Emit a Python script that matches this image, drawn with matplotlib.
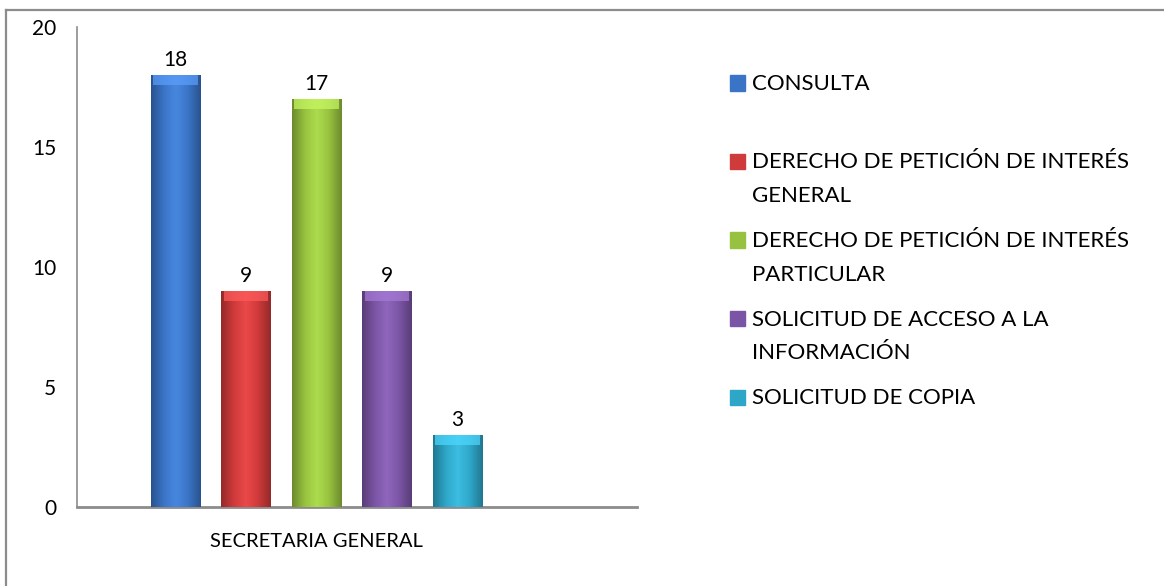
import numpy as np
import matplotlib.pyplot as plt
from matplotlib.colors import LinearSegmentedColormap, to_rgb

plt.rcParams['font.family'] = ['Lato', 'DejaVu Sans']

# Datos
categoria = 'SECRETARIA GENERAL'
tipos = ['CONSULTA',
         'DERECHO DE PETICIÓN DE INTERÉS\nGENERAL',
         'DERECHO DE PETICIÓN DE INTERÉS\nPARTICULAR',
         'SOLICITUD DE ACCESO A LA\nINFORMACIÓN',
         'SOLICITUD DE COPIA']
valores = [18, 9, 17, 9, 3]
colores = ['#3A74C6', '#CF3A3A', '#97C23F', '#7B55A5', '#2EA6C8']
yticks = [0, 5, 10, 15, 20]


def degradado(color):
    c = np.array(to_rgb(color))
    oscuro = c * 0.72
    claro = np.minimum(c * 1.08 + 0.04, 1)
    return LinearSegmentedColormap.from_list('g', [oscuro, c, claro, c, oscuro])


fig = plt.figure(figsize=(11.64, 5.86), dpi=100)
ax = fig.add_axes([77 / 1164, 1 - 507 / 586, (637 - 77) / 1164, (507 - 27) / 586])

x = np.arange(len(valores))
barras = ax.bar(x, valores, width=0.7, color=colores, zorder=2)
grad = np.linspace(0, 1, 64).reshape(1, -1)
for b, c in zip(barras, colores):
    x0, y0 = b.get_x(), b.get_y()
    w, h = b.get_width(), b.get_height()
    im = ax.imshow(grad, cmap=degradado(c), aspect='auto',
                   extent=[x0, x0 + w, y0, y0 + h], zorder=3)
    im.set_clip_path(b)
    # borde superior mas claro
    ax.bar(x0 + w / 2, 0.4, bottom=h - 0.4, width=w * 0.9,
           color=np.minimum(np.array(to_rgb(c)) * 1.15 + 0.1, 1), alpha=0.7, zorder=4)

for xi, v in zip(x, valores):
    ax.annotate(str(v), (xi, v), xytext=(0, 11), textcoords='offset points',
                ha='center', va='center', fontsize=15)

ax.set_xlim(-1.397, 6.546)
ax.set_ylim(0, 20)
ax.set_yticks(yticks)
ax.set_xticks([2])
ax.set_xticklabels([categoria])
ax.tick_params(axis='y', length=0, labelsize=15, pad=15)
ax.tick_params(axis='x', length=0, labelsize=14.5, pad=19)
for s in ['top', 'right']:
    ax.spines[s].set_visible(False)
ax.spines['left'].set_color('#8c8c8c')
ax.spines['left'].set_linewidth(1.2)
ax.spines['bottom'].set_color('#8c8c8c')
ax.spines['bottom'].set_linewidth(2)

# Leyenda
lx, ly0, paso = 730 / 1164, 1 - 83 / 586, 78.5 / 586
for i, (t, c) in enumerate(zip(tipos, colores)):
    y = ly0 - i * paso
    fig.patches.append(plt.Rectangle((lx, y - 7.5 / 586), 15 / 1164, 15 / 586,
                                     transform=fig.transFigure, color=c))
    fig.text(lx + 22 / 1164, y + 9 / 586, t, fontsize=16, va='top', ha='left',
             linespacing=1.85)

# Marco del grafico
fig.add_artist(plt.Line2D([6 / 1164, 1], [1 - 10 / 586] * 2, color='#8c8c8c', lw=1.6))
fig.add_artist(plt.Line2D([6 / 1164] * 2, [0, 1 - 10 / 586], color='#8c8c8c', lw=1.6))

fig.savefig('out.png', dpi=100)
